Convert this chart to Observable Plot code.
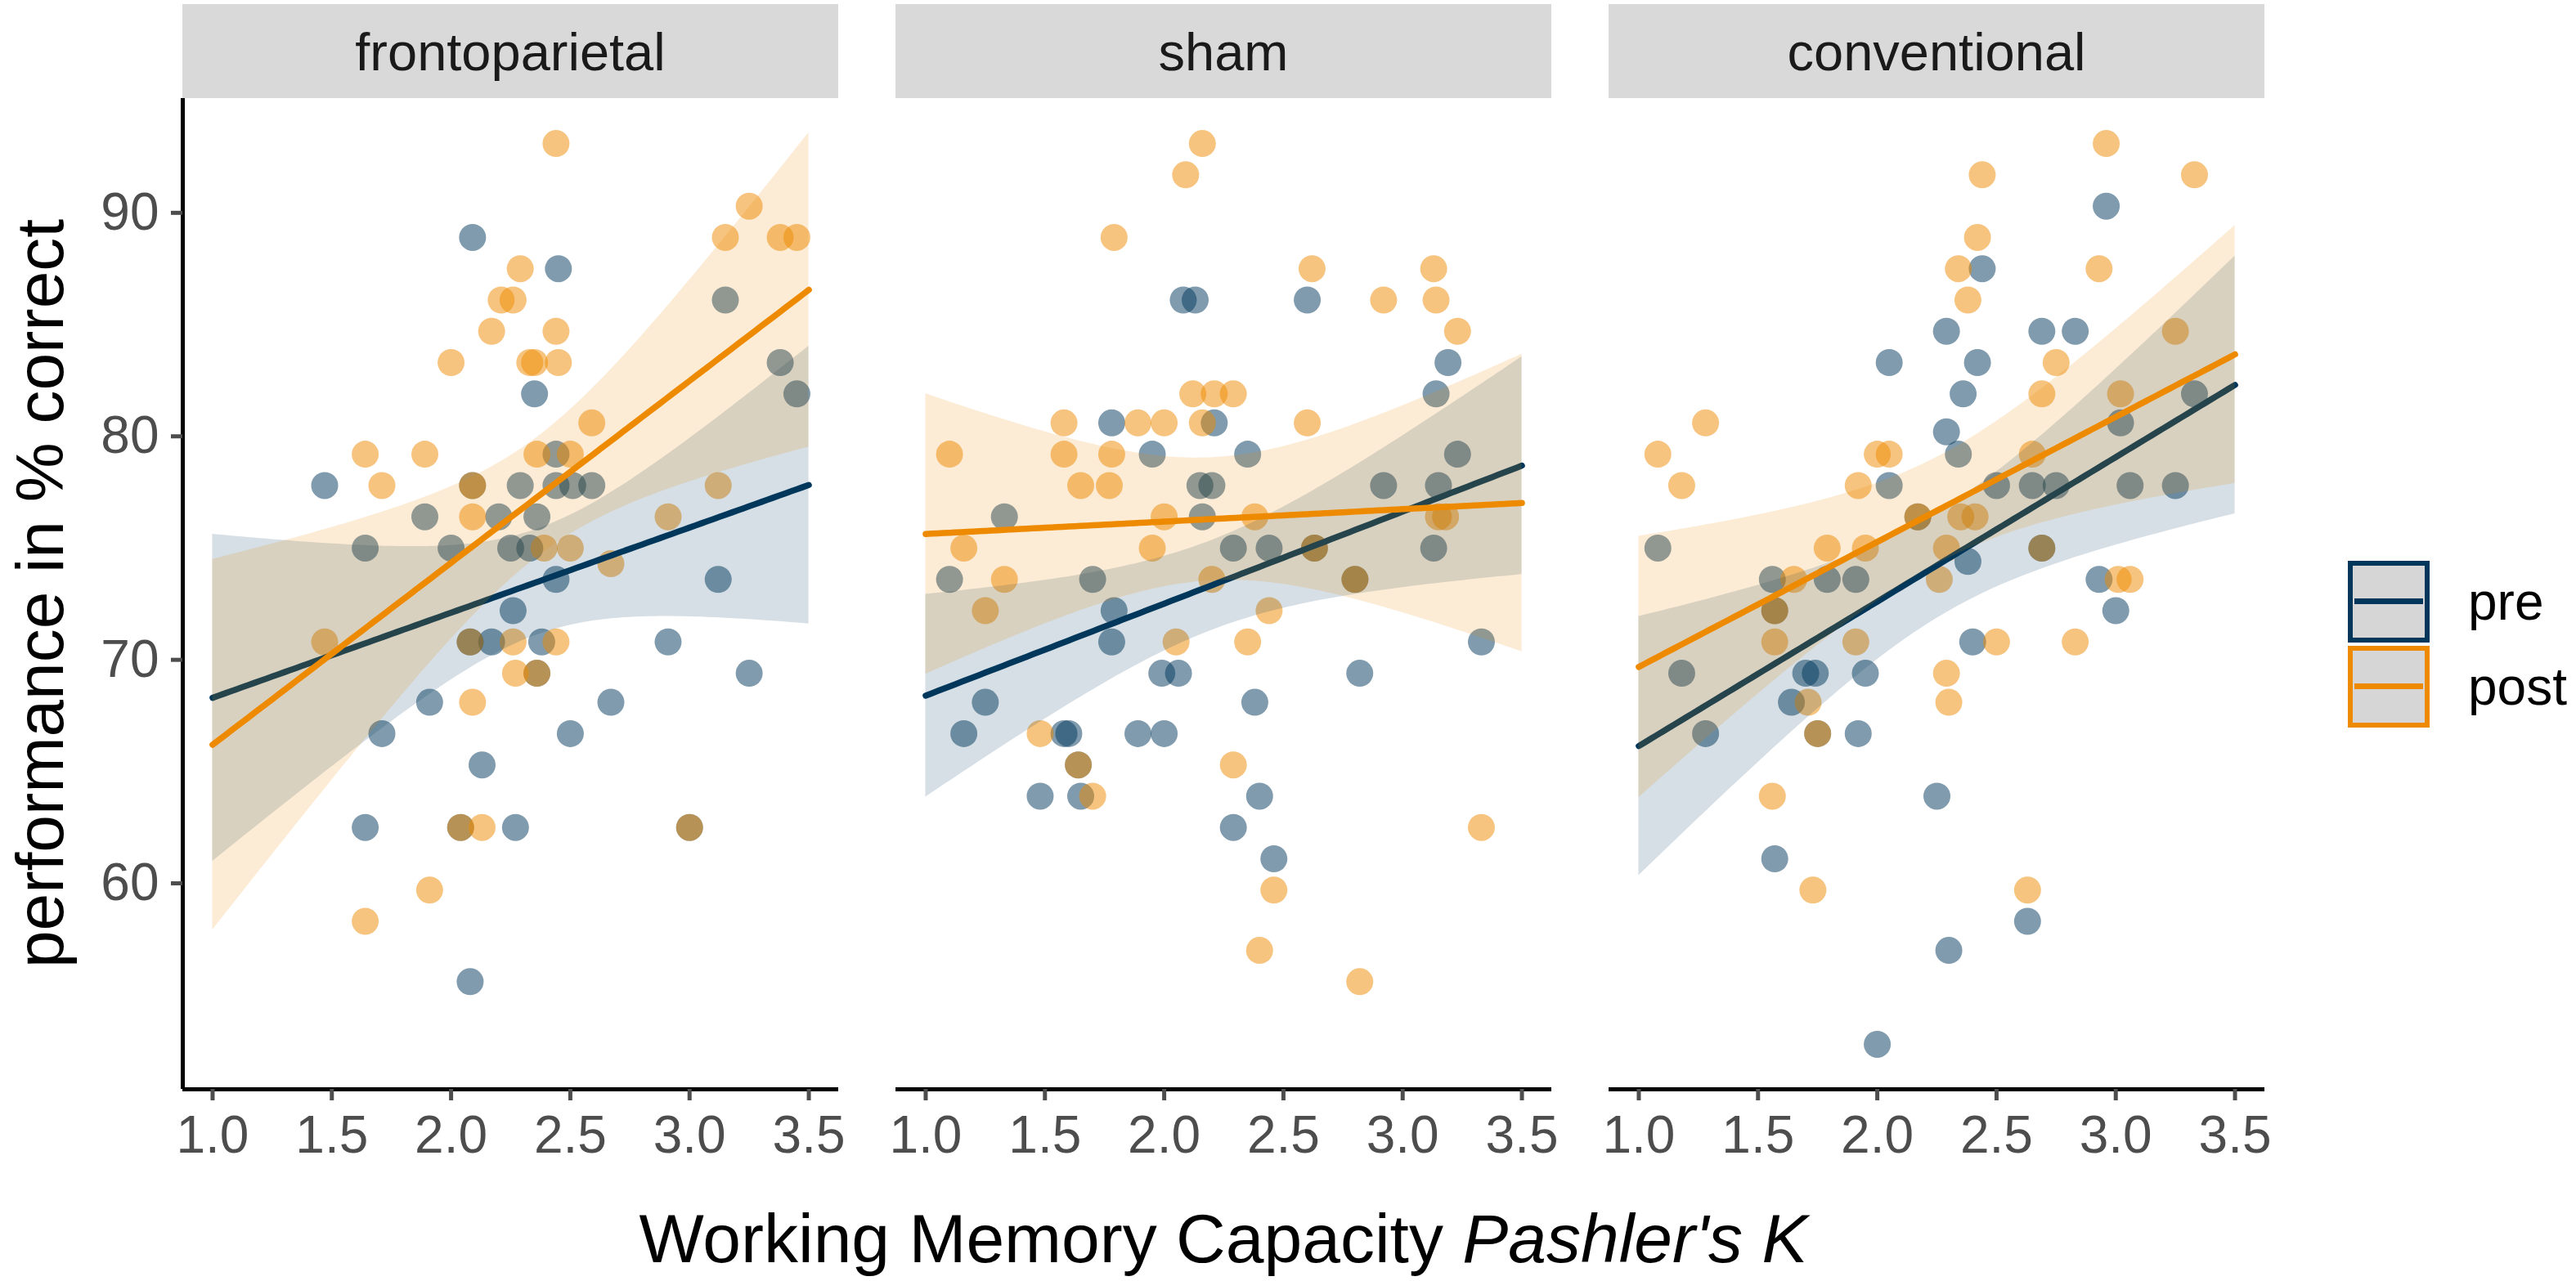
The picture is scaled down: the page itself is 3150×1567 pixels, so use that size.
<!DOCTYPE html>
<html>
<head>
<meta charset="utf-8">
<script src="https://cdn.jsdelivr.net/npm/d3@7"></script>
<script src="https://cdn.jsdelivr.net/npm/@observablehq/plot@0.6"></script>
<style>
  html, body { margin: 0; padding: 0; background: #ffffff; }
  #fig { position: relative; width: 3150px; height: 1567px; overflow: hidden; background: #ffffff;
         font-family: "Liberation Sans", Arial, Helvetica, sans-serif; }
  #chart { position: absolute; left: 0; top: 0; }
  #xtitle { position: absolute; left: 222px; width: 2548px; top: 1473px; text-align: center;
            font-size: 84px; line-height: 84px; color: #000; white-space: nowrap; }
  #legend { position: absolute; left: 2871px; top: 685px; }
  .key-row { display: flex; align-items: center; height: 101px; margin-bottom: 3px; }
  .key { width: 100px; height: 100px; box-sizing: border-box; border: 6px solid; background: #d6d6d6; position: relative; }
  .key span { position: absolute; left: 2px; right: 2px; top: 50%; height: 7px; margin-top: -3.5px; }
  .lab { margin-left: 47px; font-size: 64px; color: #000; }
</style>
</head>
<body>
<div id="fig">
  <div id="chart"></div>
  <div id="xtitle">Working Memory Capacity <i>Pashler's K</i></div>
  <div id="legend"></div>
</div>
<script>
// ---------- categories / labels ----------
const panels = ["frontoparietal", "sham", "conventional"];
const phases = ["pre", "post"];
const phaseColors = ["#00375B", "#EE8A00"];
const xTicks = [1.0, 1.5, 2.0, 2.5, 3.0, 3.5];
const yTicks = [60, 70, 80, 90];
const xLimits = [1, 3.5];
const yTitle = "performance in % correct";

// ---------- frontoparietal ----------
const fpPreX = [2.09, 2.45, 3.15, 3.38, 2.35, 3.45, 2.44, 1.47, 2.09, 2.29, 2.44, 2.51, 2.59, 1.89, 2.20, 2.36,
  1.64, 2.00, 2.25, 2.33, 2.44, 3.12, 2.26, 2.08, 2.17, 2.38, 2.91, 2.36, 3.25, 1.91, 2.67, 1.71, 2.50, 2.13,
  1.64, 2.04, 2.27, 3.00, 2.08];
const fpPreY = [88.9, 87.5, 86.1, 83.3, 81.9, 81.9, 79.2, 77.8, 77.8, 77.8, 77.8, 77.8, 77.8, 76.4, 76.4, 76.4,
  75.0, 75.0, 75.0, 75.0, 73.6, 73.6, 72.2, 70.8, 70.8, 70.8, 70.8, 69.4, 69.4, 68.1, 68.1, 66.7, 66.7, 65.3,
  62.5, 62.5, 62.5, 62.5, 55.6];
const fpPostX = [2.44, 3.25, 3.15, 3.38, 3.45, 2.29, 2.21, 2.26, 2.17, 2.44, 2.00, 2.33, 2.35, 2.45, 2.59, 1.64,
  1.89, 2.36, 2.50, 1.71, 2.09, 3.12, 2.09, 2.91, 2.39, 2.50, 2.67, 1.47, 2.08, 2.26, 2.44, 2.27, 2.36, 2.09,
  2.04, 2.13, 3.00, 1.91, 1.64];
const fpPostY = [93.1, 90.3, 88.9, 88.9, 88.9, 87.5, 86.1, 86.1, 84.7, 84.7, 83.3, 83.3, 83.3, 83.3, 80.6, 79.2,
  79.2, 79.2, 79.2, 77.8, 77.8, 77.8, 76.4, 76.4, 75.0, 75.0, 74.3, 70.8, 70.8, 70.8, 70.8, 69.4, 69.4, 68.1,
  62.5, 62.5, 62.5, 59.7, 58.3];

// ---------- sham ----------
const shPreX = [2.08, 2.13, 2.60, 3.19, 3.14, 1.78, 2.21, 1.95, 2.35, 3.23, 2.15, 2.20, 2.92, 3.15, 1.33, 2.16,
  2.29, 2.44, 2.63, 3.13, 1.10, 1.70, 2.80, 1.79, 1.78, 3.33, 1.99, 2.06, 2.82, 1.25, 2.38, 1.16, 1.58, 1.60,
  1.89, 2.00, 1.64, 1.48, 1.65, 2.40, 2.29, 2.46];
const shPreY = [86.1, 86.1, 86.1, 83.3, 81.9, 80.6, 80.6, 79.2, 79.2, 79.2, 77.8, 77.8, 77.8, 77.8, 76.4, 76.4,
  75.0, 75.0, 75.0, 75.0, 73.6, 73.6, 73.6, 72.2, 70.8, 70.8, 69.4, 69.4, 69.4, 68.1, 68.1, 66.7, 66.7, 66.7,
  66.7, 66.7, 65.3, 63.9, 63.9, 63.9, 62.5, 61.1];
const shPostX = [2.16, 2.09, 1.79, 2.62, 3.13, 2.92, 3.14, 3.23, 2.12, 2.21, 2.29, 1.58, 1.89, 2.00, 2.16, 2.60,
  1.10, 1.58, 1.78, 1.65, 1.77, 2.00, 2.38, 3.15, 3.18, 1.16, 1.95, 2.63, 1.33, 2.20, 2.80, 1.25, 2.44, 2.05,
  2.35, 1.48, 1.64, 2.29, 1.70, 3.33, 2.46, 2.40, 2.82];
const shPostY = [93.1, 91.7, 88.9, 87.5, 87.5, 86.1, 86.1, 84.7, 81.9, 81.9, 81.9, 80.6, 80.6, 80.6, 80.6, 80.6,
  79.2, 79.2, 79.2, 77.8, 77.8, 76.4, 76.4, 76.4, 76.4, 75.0, 75.0, 75.0, 73.6, 73.6, 73.6, 72.2, 72.2, 70.8,
  70.8, 66.7, 65.3, 65.3, 63.9, 62.5, 59.7, 57.0, 55.6];

// ---------- conventional ----------
const cvPreX = [2.96, 2.44, 2.29, 2.69, 2.83, 2.05, 2.42, 2.36, 3.33, 2.29, 3.02, 2.34, 2.05, 2.50, 2.65, 2.75,
  3.06, 3.25, 2.17, 1.08, 2.69, 2.38, 1.56, 1.79, 1.91, 2.93, 1.57, 3.00, 2.40, 1.18, 1.70, 1.74, 1.95, 1.64,
  1.28, 1.75, 1.92, 2.25, 1.57, 2.63, 2.30, 2.00];
const cvPreY = [90.3, 87.5, 84.7, 84.7, 84.7, 83.3, 83.3, 81.9, 81.9, 80.2, 80.6, 79.2, 77.8, 77.8, 77.8, 77.8,
  77.8, 77.8, 76.4, 75.0, 75.0, 74.4, 73.6, 73.6, 73.6, 73.6, 72.2, 72.2, 70.8, 69.4, 69.4, 69.4, 69.4, 68.1,
  66.7, 66.7, 66.7, 63.9, 61.1, 58.3, 57.0, 52.8];
const cvPostX = [2.96, 2.44, 3.33, 2.42, 2.34, 2.93, 2.38, 3.25, 2.75, 2.69, 3.02, 1.28, 1.08, 2.00, 2.05, 2.65,
  1.18, 1.92, 2.17, 2.35, 2.41, 1.79, 1.95, 2.29, 2.69, 1.65, 2.26, 3.01, 3.06, 1.57, 1.57, 1.91, 2.50, 2.83,
  2.29, 1.71, 2.30, 1.75, 1.56, 1.73, 2.63];
const cvPostY = [93.1, 91.7, 91.7, 88.9, 87.5, 87.5, 86.1, 84.7, 83.3, 81.9, 81.9, 80.6, 79.2, 79.2, 79.2, 79.2,
  77.8, 77.8, 76.4, 76.4, 76.4, 75.0, 75.0, 75.0, 75.0, 73.6, 73.6, 73.6, 73.6, 72.2, 70.8, 70.8, 70.8, 70.8,
  69.4, 68.1, 68.1, 66.7, 63.9, 59.7, 59.7];

// ---------- assemble ----------
const series = [
  {panel: "frontoparietal", phase: "pre",  xs: fpPreX,  ys: fpPreY},
  {panel: "frontoparietal", phase: "post", xs: fpPostX, ys: fpPostY},
  {panel: "sham",           phase: "pre",  xs: shPreX,  ys: shPreY},
  {panel: "sham",           phase: "post", xs: shPostX, ys: shPostY},
  {panel: "conventional",   phase: "pre",  xs: cvPreX,  ys: cvPreY},
  {panel: "conventional",   phase: "post", xs: cvPostX, ys: cvPostY}
];

const points = series.flatMap(s => s.xs.map((x, i) => ({panel: s.panel, phase: s.phase, x, y: s.ys[i]})));

// t quantile (0.975) via Cornish-Fisher expansion
function t975(df) {
  const z = 1.959964, z3 = z ** 3, z5 = z ** 5, z7 = z ** 7;
  return z + (z3 + z) / (4 * df) + (5 * z5 + 16 * z3 + 3 * z) / (96 * df * df)
    + (3 * z7 + 19 * z5 + 17 * z3 - 15 * z) / (384 * df ** 3);
}

// OLS fit with 95% confidence band (like geom_smooth(method = "lm", fullrange = TRUE))
const evalX = d3.range(0, 101).map(i => xLimits[0] + (xLimits[1] - xLimits[0]) * i / 100);
const bands = series.flatMap(s => {
  const n = s.xs.length;
  const mx = d3.mean(s.xs), my = d3.mean(s.ys);
  let sxx = 0, sxy = 0;
  s.xs.forEach((x, i) => { sxx += (x - mx) ** 2; sxy += (x - mx) * (s.ys[i] - my); });
  const b = sxy / sxx, a = my - b * mx;
  let sse = 0;
  s.xs.forEach((x, i) => { sse += (s.ys[i] - a - b * x) ** 2; });
  const sd = Math.sqrt(sse / (n - 2));
  const t = t975(n - 2);
  return evalX.map(x => {
    const f = a + b * x;
    const se = sd * Math.sqrt(1 / n + (x - mx) ** 2 / sxx);
    return {panel: s.panel, phase: s.phase, x, fit: f, lo: f - t * se, hi: f + t * se};
  });
});

// scale domains with ggplot-like 5% expansion
const xPad = (xLimits[1] - xLimits[0]) * 0.05;
const xDom = [xLimits[0] - xPad, xLimits[1] + xPad];
const yExt = d3.extent(points, d => d.y);
const yPad = (yExt[1] - yExt[0]) * 0.05;
const yDom = [yExt[0] - yPad, yExt[1] + yPad];

const W = 2800, H = 1440, mL = 222, mR = 30, mT = 120, mB = 108;

const plot = Plot.plot({
  width: W,
  height: H,
  marginLeft: mL,
  marginRight: mR,
  marginTop: mT,
  marginBottom: mB,
  style: {fontFamily: "'Liberation Sans', Arial, Helvetica, sans-serif", background: "transparent", overflow: "visible"},
  fx: {domain: panels, paddingInner: 0.0807, paddingOuter: 0, axis: null, label: null},
  x: {domain: xDom, label: null},
  y: {domain: yDom, label: null},
  color: {domain: phases, range: phaseColors},
  marks: [
    Plot.dot(points, {fx: "panel", x: "x", y: "y", fill: "phase", fillOpacity: 0.5, r: 16.5}),
    ...phases.flatMap(ph => [
      Plot.areaY(bands.filter(d => d.phase === ph), {fx: "panel", x: "x", y1: "lo", y2: "hi", fill: "phase", fillOpacity: 0.16}),
      Plot.line(bands.filter(d => d.phase === ph), {fx: "panel", x: "x", y: "fit", stroke: "phase", strokeWidth: 7.5})
    ]),
    Plot.ruleY([yDom[0]], {stroke: "#000", strokeWidth: 5}),
    Plot.ruleX(panels.slice(0, 1), {fx: d => d, x: xDom[0], stroke: "#000", strokeWidth: 5}),
    Plot.axisX({ticks: xTicks, tickFormat: d3.format(".1f"), tickSize: 14, tickPadding: 18, fontSize: 64,
                color: "#4D4D4D", strokeWidth: 5}),
    Plot.axisY({ticks: yTicks, tickSize: 14, tickPadding: 15, fontSize: 64, color: "#4D4D4D", strokeWidth: 5})
  ]
});

document.getElementById("chart").appendChild(plot);

const svg = d3.select(plot);

// facet strips (gray boxes with panel names) placed with the fx scale
const fxs = plot.scale("fx");
const strips = svg.insert("g", ":first-child");
panels.forEach(p => {
  const x0 = fxs.apply(p);
  strips.append("rect").attr("x", x0).attr("y", 5).attr("width", fxs.bandwidth).attr("height", mT - 5).attr("fill", "#D9D9D9");
  strips.append("text").attr("x", x0 + fxs.bandwidth / 2).attr("y", 86).attr("text-anchor", "middle")
    .attr("font-size", 65).attr("fill", "#1A1A1A").text(p);
});

// y-axis title, centred on the panel height
svg.append("text")
  .attr("transform", `translate(77, ${(mT + H - mB) / 2}) rotate(-90)`)
  .attr("text-anchor", "middle")
  .attr("font-size", 82)
  .attr("fill", "#000")
  .text(yTitle);

// legend
const legend = d3.select("#legend");
phases.forEach((ph, i) => {
  const row = legend.append("div").attr("class", "key-row");
  const key = row.append("div").attr("class", "key").style("border-color", phaseColors[i]);
  key.append("span").style("background", phaseColors[i]);
  row.append("div").attr("class", "lab").text(ph);
});
</script>
</body>
</html>
